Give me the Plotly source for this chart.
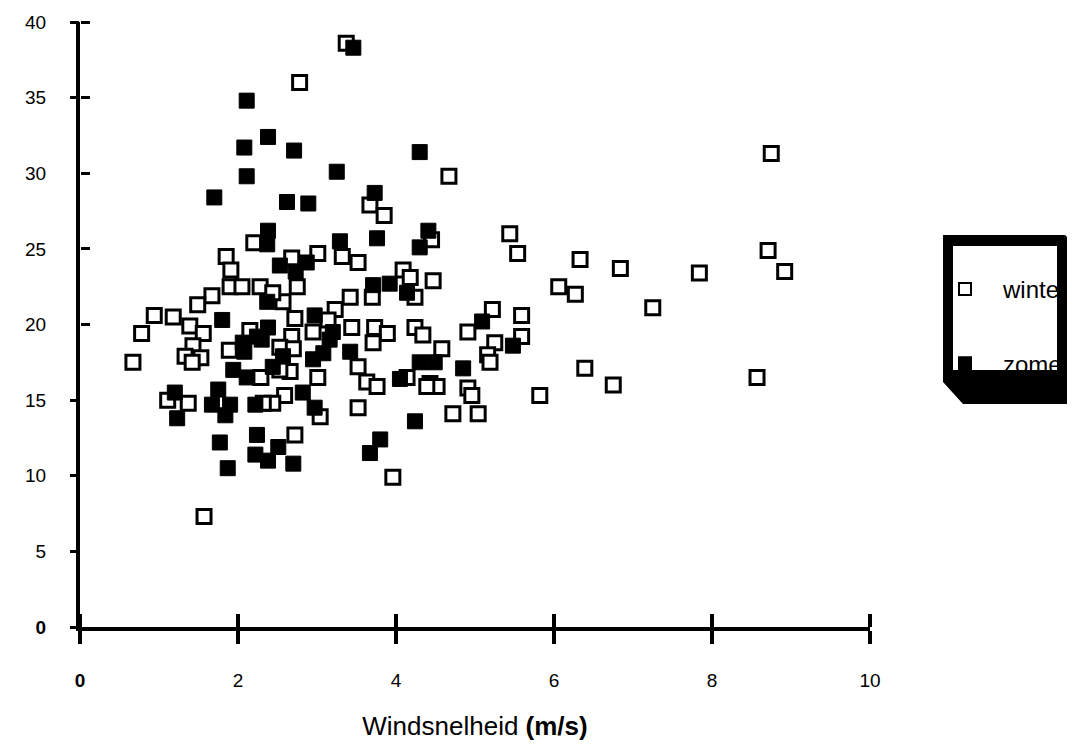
import plotly.graph_objects as go

# ---- data ----
winter_x = [3.37, 2.78, 4.67, 5.44, 5.54, 4.45, 4.47, 4.09, 4.18, 4.24,
            6.06, 5.22, 5.59, 4.91, 4.24, 4.34, 5.25, 5.59, 5.16, 5.19,
            4.58, 4.43, 4.52, 4.14, 4.91, 4.96, 4.72, 5.04, 5.82, 8.75,
            8.71, 8.92, 7.84, 6.84, 6.33, 6.27, 7.25, 6.39, 6.75, 8.57,
            3.01, 3.32, 3.52, 2.68, 3.70, 3.42, 2.75, 2.57, 3.23, 2.72,
            3.14, 3.44, 3.73, 3.89, 3.71, 2.95, 2.68, 2.53, 2.70, 3.52,
            3.63, 3.76, 3.01, 2.66, 2.53, 2.59, 2.44, 2.32, 3.04, 3.52,
            2.72, 3.96, 4.39, 2.20, 1.85, 1.91, 1.90, 2.05, 2.28, 2.44,
            1.67, 1.49, 0.94, 1.18, 1.39, 1.56, 0.78, 1.43, 1.89, 1.33,
            1.53, 1.42, 0.67, 2.15, 2.29, 1.11, 1.37, 1.57, 3.67, 3.85]
winter_y = [38.6, 36.0, 29.8, 26.0, 24.7, 25.6, 22.9, 23.6, 23.1, 21.8,
            22.5, 21.0, 20.6, 19.5, 19.8, 19.3, 18.8, 19.2, 18.0, 17.5,
            18.4, 16.1, 15.9, 16.5, 15.8, 15.3, 14.1, 14.1, 15.3, 31.3,
            24.9, 23.5, 23.4, 23.7, 24.3, 22.0, 21.1, 17.1, 16.0, 16.5,
            24.7, 24.5, 24.1, 24.4, 21.8, 21.8, 22.5, 21.5, 21.0, 20.4,
            20.3, 19.8, 19.8, 19.4, 18.8, 19.5, 19.2, 18.5, 18.4, 17.2,
            16.2, 15.9, 16.5, 16.9, 17.0, 15.3, 14.8, 14.8, 13.9, 14.5,
            12.7, 9.9, 15.9, 25.4, 24.5, 23.6, 22.5, 22.5, 22.5, 22.1,
            21.9, 21.3, 20.6, 20.5, 19.9, 19.4, 19.4, 18.6, 18.3, 17.9,
            17.8, 17.5, 17.5, 19.6, 16.5, 15.0, 14.8, 7.3, 27.9, 27.2]

zomer_x = [3.46, 2.11, 2.38, 2.08, 2.71, 4.30, 3.25, 2.11, 1.70, 2.62,
           2.89, 3.73, 2.38, 4.41, 2.37, 3.29, 3.76, 4.30, 2.53, 2.87,
           2.73, 3.71, 3.92, 4.14, 2.37, 1.80, 2.97, 5.09, 2.38, 2.24,
           2.06, 3.16, 3.08, 2.95, 3.42, 2.57, 2.30, 1.94, 2.11, 4.30,
           4.49, 4.85, 5.48, 1.20, 1.23, 1.75, 1.67, 1.90, 1.84, 2.22,
           2.24, 1.77, 1.87, 2.22, 2.38, 2.51, 2.70, 2.82, 2.97, 3.80,
           3.67, 4.24, 4.05, 2.08, 3.20, 2.44]
zomer_y = [38.3, 34.8, 32.4, 31.7, 31.5, 31.4, 30.1, 29.8, 28.4, 28.1,
           28.0, 28.7, 26.2, 26.2, 25.3, 25.5, 25.7, 25.1, 23.9, 24.1,
           23.5, 22.6, 22.7, 22.1, 21.5, 20.3, 20.6, 20.2, 19.8, 19.2,
           18.8, 19.0, 18.1, 17.7, 18.2, 17.9, 19.0, 17.0, 16.5, 17.5,
           17.5, 17.1, 18.6, 15.5, 13.8, 15.7, 14.7, 14.7, 14.0, 14.7,
           12.7, 12.2, 10.5, 11.4, 11.0, 11.9, 10.8, 15.5, 14.5, 12.4,
           11.5, 13.6, 16.4, 18.2, 19.5, 17.2]

x_ticks = [0, 2, 4, 6, 8, 10]
x_ticktext = ["<b>0</b>", "2", "4", "6", "8", "10"]
y_ticks = [0, 5, 10, 15, 20, 25, 30, 35, 40]
y_ticktext = ["<b>0</b>", "5", "10", "15", "20", "25", "30", "35", "40"]
y_ticks_left = [0, 5, 10, 15, 35, 40]
y_ticks_right = [20, 25, 30, 35, 40]

FONT = "Liberation Sans, Arial, sans-serif"

fig = go.Figure()
fig.add_trace(go.Scatter(
    x=winter_x, y=winter_y, mode="markers", name="winter",
    legendgroup="w",
    marker=dict(symbol="square", size=14, color="white",
                line=dict(color="black", width=3)),
))
fig.add_trace(go.Scatter(
    x=zomer_x, y=zomer_y, mode="markers", name="zomer",
    legendgroup="z",
    marker=dict(symbol="square", size=15, color="black",
                line=dict(color="black", width=1)),
))
# empty helper traces so the tick-only axes get drawn
for xa, ya in (("x2", "y"), ("x", "y2"), ("x", "y3")):
    fig.add_trace(go.Scatter(x=[], y=[], xaxis=xa, yaxis=ya,
                             showlegend=False, hoverinfo="skip"))

# page offset: the page body adds 8px around the figure
L, T = 72, 14
pw, ph = 790, 605
W, H = 1075, 745
R = W - L - pw
B = H - T - ph
def px(x): return (x - 8 - L) / pw        # page pixel -> paper x
def py(y): return (T + 8 + ph - y) / ph   # page pixel -> paper y

frame = (f"M {px(943)},{py(235)} L {px(1065)},{py(235)} L {px(1076)},{py(246)} "
         f"L {px(1076)},{py(404)} L {px(963)},{py(404)} L {px(943)},{py(382)} Z")

fig.update_layout(
    width=W, height=H,
    margin=dict(l=L, r=R, t=T, b=B, autoexpand=False),
    plot_bgcolor="white", paper_bgcolor="white",
    font=dict(family=FONT, size=18, color="black"),
    showlegend=True,
    legend=dict(x=px(927), y=py(267), xanchor="left", yanchor="top",
                bgcolor="rgba(0,0,0,0)", borderwidth=0,
                font=dict(size=24, family=FONT),
                itemwidth=66,
                tracegroupgap=40, itemsizing="constant"),
    shapes=[
        dict(type="path", xref="paper", yref="paper", path=frame,
             fillcolor="black", line=dict(width=0), layer="below"),
        dict(type="rect", xref="paper", yref="paper",
             x0=px(953), x1=px(1057), y0=py(370), y1=py(246),
             fillcolor="white", line=dict(width=0), layer="below"),
    ],
    xaxis=dict(range=[0, 10], showgrid=False, zeroline=False,
               showline=True, linecolor="black", linewidth=4,
               ticks="outside", ticklen=13, tickwidth=4, tickcolor="black",
               tickvals=x_ticks, ticktext=x_ticktext,
               ticklabelstandoff=20,
               tickfont=dict(size=19),
               title=dict(text="Windsnelheid <b>(m/s)</b>", standoff=28,
                          font=dict(size=26))),
    # top-side axis pinned to the bottom: its outside ticks point up
    xaxis2=dict(range=[0, 10], overlaying="x", anchor="free", position=0,
                side="top", showgrid=False, zeroline=False, showline=False,
                ticks="outside", ticklen=13, tickwidth=4, tickcolor="black",
                tickvals=x_ticks, showticklabels=False),
    yaxis=dict(range=[0, 40], showgrid=False, zeroline=False,
               showline=True, linecolor="black", linewidth=4,
               ticks="", tickvals=y_ticks, ticktext=y_ticktext,
               ticklabelstandoff=26, tickfont=dict(size=19)),
    yaxis2=dict(range=[0, 40], overlaying="y", anchor="x", side="left",
                showgrid=False, zeroline=False, showline=False,
                ticks="outside", ticklen=9, tickwidth=3, tickcolor="black",
                tickvals=y_ticks_left, showticklabels=False),
    # right-side axis pinned to the left edge: its outside ticks point inward
    yaxis3=dict(range=[0, 40], overlaying="y", anchor="free", position=0,
                side="right", showgrid=False, zeroline=False, showline=False,
                ticks="outside", ticklen=9, tickwidth=3, tickcolor="black",
                tickvals=y_ticks_right, showticklabels=False),
)

fig.write_html("out.html")
